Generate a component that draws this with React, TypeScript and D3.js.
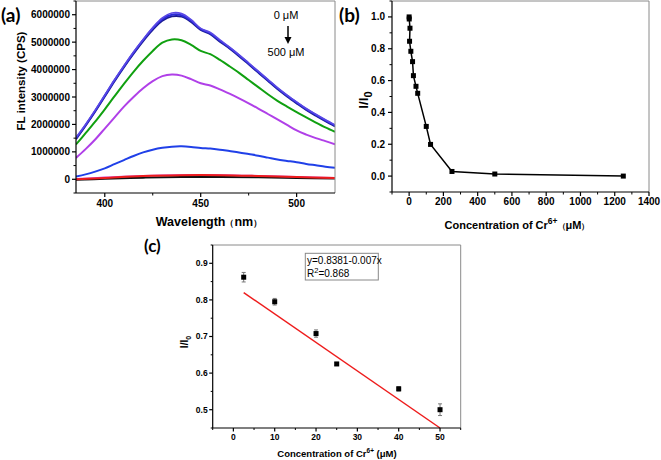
import React from "react";
import * as d3 from "d3";

// ---------- Panel (a) data ----------
const wavelengths = [385,390,395,400,405,410,415,420,425,430,435,440,445,450,455,460,465,470,475,480,485,490,495,500,505,510,515,520];
const specTop1 = [1.52,2.0,2.52,3.07,3.62,4.14,4.64,5.1,5.53,5.88,6.06,6.04,5.82,5.5,5.35,5.08,4.82,4.54,4.24,3.94,3.64,3.34,3.07,2.82,2.58,2.37,2.17,1.98];
const specTop2 = [1.5,1.98,2.5,3.05,3.6,4.12,4.62,5.08,5.5,5.84,6.0,5.98,5.78,5.48,5.32,5.05,4.8,4.52,4.22,3.92,3.62,3.32,3.05,2.8,2.56,2.35,2.15,1.96];
const specTop3 = [1.46,1.95,2.47,3.02,3.57,4.09,4.58,5.04,5.45,5.78,5.94,5.93,5.74,5.45,5.29,5.02,4.77,4.49,4.19,3.89,3.59,3.29,3.02,2.77,2.53,2.32,2.12,1.93];
const specGreen = [1.27,1.68,2.1,2.55,3.02,3.48,3.92,4.32,4.68,4.98,5.1,5.07,4.9,4.68,4.56,4.35,4.12,3.88,3.62,3.36,3.1,2.86,2.65,2.45,2.26,2.07,1.89,1.73];
const specPurple = [0.78,1.1,1.45,1.85,2.25,2.65,3.0,3.32,3.58,3.76,3.82,3.78,3.65,3.5,3.42,3.28,3.12,2.95,2.77,2.58,2.38,2.18,1.98,1.78,1.63,1.5,1.39,1.28];
const specBlue = [0.1,0.18,0.28,0.4,0.55,0.7,0.85,0.98,1.08,1.15,1.19,1.2,1.18,1.14,1.12,1.08,1.03,0.98,0.92,0.86,0.79,0.72,0.67,0.62,0.56,0.51,0.46,0.42];
const lowWavelengths = [385,400,420,440,460,480,500,520];
const specMagenta = [0.02,0.07,0.13,0.16,0.16,0.13,0.09,0.06];
const specRed = [0.0,0.05,0.12,0.15,0.15,0.12,0.08,0.05];
const specBlack = [-0.02,0.02,0.06,0.08,0.08,0.07,0.05,0.03];
const aXTicks = [400,450,500];
const aYTicks = [0,1000000,2000000,3000000,4000000,5000000,6000000];

// ---------- Panel (b) data ----------
const bConc = [0,0.5,5,2.5,10,20,25,40,50,100,125,250,500,1250];
const bRatio = [1.0,0.987,0.929,0.847,0.784,0.719,0.631,0.564,0.52,0.312,0.199,0.029,0.013,0.0];
const bXTicks = [0,200,400,600,800,1000,1200,1400];
const bYTicks = [0.0,0.2,0.4,0.6,0.8,1.0];

// ---------- Panel (c) data ----------
const cConc = [2.5,10,20,25,40,50];
const cRatio = [0.862,0.795,0.708,0.625,0.557,0.5];
const cErr = [0.013,0.009,0.01,0.004,0.006,0.016];
const fitX = [2.5,50];
const fitY = [0.82,0.45];
const cXTicks = [0,10,20,30,40,50];
const cYTicks = [0.5,0.6,0.7,0.8,0.9];

const FONT = "'Liberation Sans', Arial, Helvetica, sans-serif";
const LABEL_FONT = "Lato, 'Liberation Sans', Arial, sans-serif";

function minors(ticks: number[], step: number, dom: number[]) {
  const out: number[] = [];
  const lo = Math.min(dom[0], dom[1]), hi = Math.max(dom[0], dom[1]);
  for (let v = Math.ceil((lo - 1e-9) / step) * step; v <= hi + 1e-9; v += step) {
    if (!ticks.some((t) => Math.abs(t - v) < step * 1e-3)) out.push(v);
  }
  return out;
}

type AxisProps = {
  x: d3.ScaleLinear<number, number>;
  y: d3.ScaleLinear<number, number>;
  xt: number[]; yt: number[];
  xMinor: number; yMinor: number;
  xFmt: (v: number) => string; yFmt: (v: number) => string;
  fs: number; major: number; minor: number;
  xLabY: number; yLabGap: number;
};

function Frame(p: AxisProps) {
  const [x0, x1] = p.x.range();
  const [y0, y1] = p.y.range(); // y0 bottom, y1 top
  const xm = minors(p.xt, p.xMinor, p.x.domain());
  const ym = minors(p.yt, p.yMinor, p.y.domain());
  return (
    <g>
      <line x1={x0} x2={x1} y1={y1} y2={y1} stroke="#8a8a8a" strokeWidth={1} />
      <line x1={x1} x2={x1} y1={y1} y2={y0} stroke="#8a8a8a" strokeWidth={1} />
      <line x1={x0} x2={x1} y1={y0} y2={y0} stroke="#000" strokeWidth={1.2} />
      <line x1={x0} x2={x0} y1={y1} y2={y0} stroke="#000" strokeWidth={1.2} />
      {p.xt.map((t) => (
        <g key={"xt" + t}>
          <line x1={p.x(t)} x2={p.x(t)} y1={y0} y2={y0 + p.major} stroke="#000" strokeWidth={1.2} />
          <text x={p.x(t)} y={p.xLabY} textAnchor="middle" fontSize={p.fs} fontWeight="bold" fontFamily={FONT}>{p.xFmt(t)}</text>
        </g>
      ))}
      {xm.map((t) => (
        <line key={"xm" + t} x1={p.x(t)} x2={p.x(t)} y1={y0} y2={y0 + p.minor} stroke="#000" strokeWidth={1} />
      ))}
      {p.yt.map((t) => (
        <g key={"yt" + t}>
          <line x1={x0 - p.major} x2={x0} y1={p.y(t)} y2={p.y(t)} stroke="#000" strokeWidth={1.2} />
          <text x={x0 - p.yLabGap} y={p.y(t)} dy="0.35em" textAnchor="end" fontSize={p.fs} fontWeight="bold" fontFamily={FONT}>{p.yFmt(t)}</text>
        </g>
      ))}
      {ym.map((t) => (
        <line key={"ym" + t} x1={x0 - p.minor} x2={x0} y1={p.y(t)} y2={p.y(t)} stroke="#000" strokeWidth={1} />
      ))}
    </g>
  );
}

export default function App() {
  // Panel a scales
  const ax = d3.scaleLinear().domain([385, 520]).range([76, 335]);
  const ay = d3.scaleLinear().domain([-500000, 6500000]).range([193, 1]);
  const specLine = (xs: number[]) =>
    d3.line<number>().x((_, i) => ax(xs[i])).y((v) => ay(v * 1e6)).curve(d3.curveCatmullRom);
  const mainLine = specLine(wavelengths);
  const lowLine = specLine(lowWavelengths);

  // Panel b scales
  const bx = d3.scaleLinear().domain([-100, 1400]).range([392, 649]);
  const by = d3.scaleLinear().domain([-0.1, 1.1]).range([192, 1]);
  const bLine = d3.line<number>().x((_, i) => bx(bConc[i])).y((v) => by(v));

  // Panel c scales
  const cx = d3.scaleLinear().domain([-5, 55]).range([212.7, 460.7]);
  const cy = d3.scaleLinear().domain([0.45, 0.95]).range([428, 245]);

  const curves: { d: number[]; c: string; w: number; xs: "m" | "l" }[] = [
    { d: specBlack, c: "#111111", w: 2, xs: "l" },
    { d: specMagenta, c: "#d040d0", w: 1.5, xs: "l" },
    { d: specRed, c: "#ee1c1c", w: 2, xs: "l" },
    { d: specBlue, c: "#2040e8", w: 2, xs: "m" },
    { d: specPurple, c: "#b040e8", w: 2, xs: "m" },
    { d: specGreen, c: "#10a010", w: 2, xs: "m" },
    { d: specTop3, c: "#1c1c90", w: 2, xs: "m" },
    { d: specTop2, c: "#2a2ad8", w: 2, xs: "m" },
    { d: specTop1, c: "#5a48e6", w: 1.6, xs: "m" },
  ];

  return (
    <svg width={661} height={460} style={{ position: "absolute", left: 0, top: 0, background: "#fff" }}>
      <defs>
        <clipPath id="clipA"><rect x={76} y={1} width={259} height={192} /></clipPath>
      </defs>

      {/* ---------- Panel (a) ---------- */}
      <g clipPath="url(#clipA)">
        {curves.map((c, i) => (
          <path key={i} d={(c.xs === "m" ? mainLine : lowLine)(c.d) || ""} fill="none" stroke={c.c} strokeWidth={c.w} />
        ))}
      </g>
      <Frame x={ax} y={ay} xt={aXTicks} yt={aYTicks} xMinor={25} yMinor={500000}
        xFmt={(v) => String(v)} yFmt={(v) => String(v)} fs={10} major={4} minor={2.5} xLabY={207} yLabGap={6} />
      <text x={1} y={22} fontSize={19} fontWeight="bold" fontFamily={LABEL_FONT}>(a)</text>
      <text transform="translate(25,81) rotate(-90)" textAnchor="middle" fontSize={11.5} fontWeight="bold" fontFamily={FONT}>FL intensity (CPS)</text>
      <text x={209} y={226} textAnchor="middle" fontSize={12.5} fontWeight="bold" fontFamily={FONT}>
        Wavelength<tspan fontSize={9}>（</tspan>nm<tspan fontSize={9}>）</tspan>
      </text>
      <text x={286} y={19} textAnchor="middle" fontSize={11} fontFamily={FONT}>0 μM</text>
      <line x1={288} x2={288} y1={26} y2={40} stroke="#000" strokeWidth={1.5} />
      <path d="M284.5,37 L291.5,37 L288,44 Z" fill="#000" />
      <text x={286} y={56} textAnchor="middle" fontSize={11} fontFamily={FONT}>500 μM</text>

      {/* ---------- Panel (b) ---------- */}
      <path d={bLine(bRatio) || ""} fill="none" stroke="#000" strokeWidth={1.5} />
      {bRatio.map((v, i) => (
        <rect key={i} x={bx(bConc[i]) - 2.5} y={by(v) - 2.5} width={5} height={5} fill="#000" />
      ))}
      <Frame x={bx} y={by} xt={bXTicks} yt={bYTicks} xMinor={100} yMinor={0.1}
        xFmt={(v) => String(v)} yFmt={(v) => v.toFixed(1)} fs={10} major={4} minor={2.5} xLabY={205} yLabGap={7} />
      <text x={339} y={22} fontSize={19} fontWeight="bold" fontFamily={LABEL_FONT}>(b)</text>
      <text transform="translate(368,100) rotate(-90)" textAnchor="middle" fontSize={13.5} fontWeight="bold" fontFamily={FONT}>
        I/I<tspan dy="4" fontSize={11}>0</tspan>
      </text>
      <text x={517} y={229} textAnchor="middle" fontSize={11} fontWeight="bold" fontFamily={FONT}>
        Concentration of Cr<tspan dy="-5" fontSize={8.5}>6+</tspan><tspan dy="5" fontSize={8}>（</tspan>μM<tspan fontSize={8}>）</tspan>
      </text>

      {/* ---------- Panel (c) ---------- */}
      <line x1={cx(fitX[0])} y1={cy(fitY[0])} x2={cx(fitX[1])} y2={cy(fitY[1])} stroke="#ee1c1c" strokeWidth={1.5} />
      {cRatio.map((v, i) => {
        const px = cx(cConc[i]);
        const top = cy(v + cErr[i]);
        const bot = cy(v - cErr[i]);
        return (
          <g key={i}>
            <line x1={px} x2={px} y1={top} y2={bot} stroke="#777" strokeWidth={1} />
            <line x1={px - 2} x2={px + 2} y1={top} y2={top} stroke="#777" strokeWidth={1} />
            <line x1={px - 2} x2={px + 2} y1={bot} y2={bot} stroke="#777" strokeWidth={1} />
            <rect x={px - 2.5} y={cy(v) - 2.5} width={5} height={5} fill="#000" />
          </g>
        );
      })}
      <Frame x={cx} y={cy} xt={cXTicks} yt={cYTicks} xMinor={5} yMinor={0.05}
        xFmt={(v) => String(v)} yFmt={(v) => v.toFixed(1)} fs={8.5} major={3.5} minor={2} xLabY={440} yLabGap={5} />
      <rect x={305.3} y={253.3} width={73} height={26.7} fill="#fff" stroke="#888" strokeWidth={1} />
      <text x={307} y={263.5} fontSize={10} fontFamily={FONT}>y=0.8381-0.007x</text>
      <text x={307} y={277} fontSize={10} fontFamily={FONT}>
        R<tspan dy="-4" fontSize={7.5}>2</tspan><tspan dy="4">=0.868</tspan>
      </text>
      <text x={144} y={252} fontSize={17} fontWeight="bold" fontFamily={LABEL_FONT}>(c)</text>
      <text transform="translate(188,342) rotate(-90)" textAnchor="middle" fontSize={10} fontWeight="bold" fontFamily={FONT}>
        I/I<tspan dy="3" fontSize={7}>0</tspan>
      </text>
      <text x={337} y={457} textAnchor="middle" fontSize={9.5} fontWeight="bold" fontFamily={FONT}>
        Concentration of Cr<tspan dy="-4" fontSize={6.5}>6+</tspan><tspan dy="4"> (μM)</tspan>
      </text>
    </svg>
  );
}
